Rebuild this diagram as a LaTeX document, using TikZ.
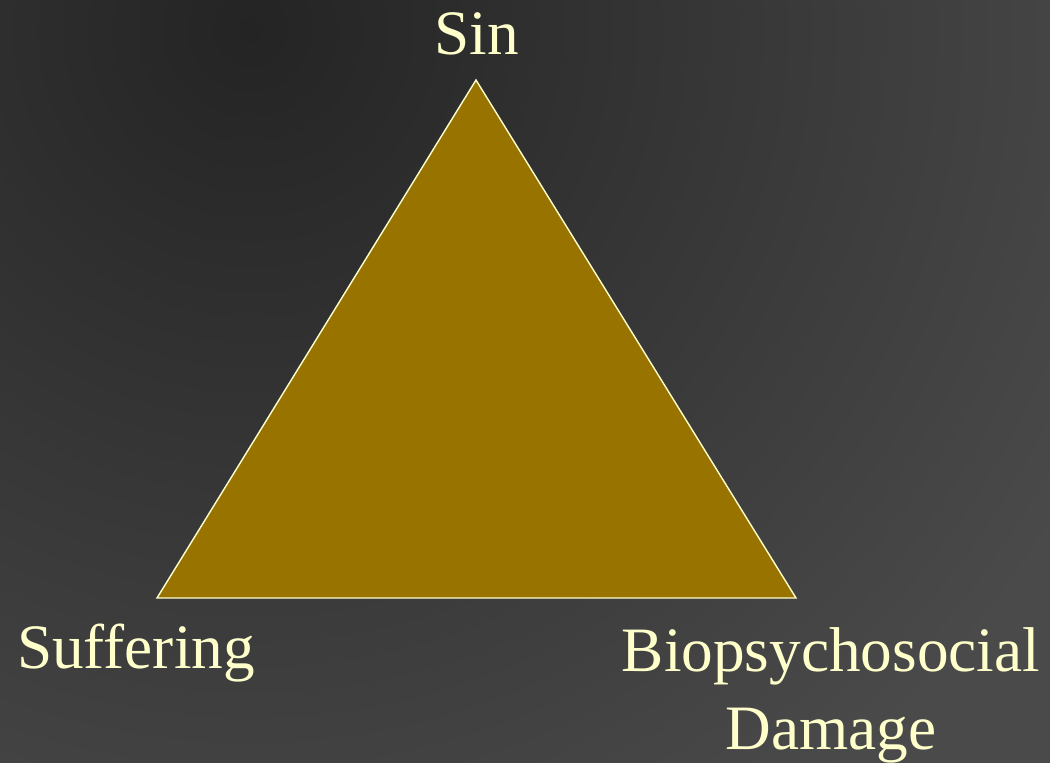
\documentclass[tikz,border=0pt]{standalone}
\usepackage{fontspec}
\setmainfont{Liberation Serif}
\definecolor{bgdark}{HTML}{242424}
\definecolor{bglight}{HTML}{4A4A4A}
\definecolor{gold}{HTML}{987300}
\definecolor{cream}{HTML}{FFFFCC}
\tikzset{
  label text/.style={text=cream, font=\fontsize{36}{44}\selectfont, align=center, anchor=base, inner sep=0pt}
}
\begin{document}
\begin{tikzpicture}[x=0.02cm, y=-0.02cm]
    % Fond
    \useasboundingbox (0,0) rectangle (1050,763);
    \fill[bglight] (0,0) rectangle (1050,763);
    \begin{scope}
        \clip (0,0) rectangle (1050,763);
        \shade[inner color=bgdark, outer color=bglight] (250,30) circle (19cm);
    \end{scope}
    
    % Sommets du triangle
    \coordinate (top) at (476,80);
    \coordinate (left) at (157,598);
    \coordinate (right) at (796,598);
    \draw[cream, line width=0.8pt, fill=gold, line join=miter] (top) -- (left) -- (right) -- cycle;
    
    % Etiquettes
    \node[label text] (sin) at (477,55) {Sin};
    \node[label text] (suffering) at (136,668) {Suffering};
    \node[label text] (damage) at (831,749) {Biopsychosocial\\Damage};
\end{tikzpicture}
\end{document}
